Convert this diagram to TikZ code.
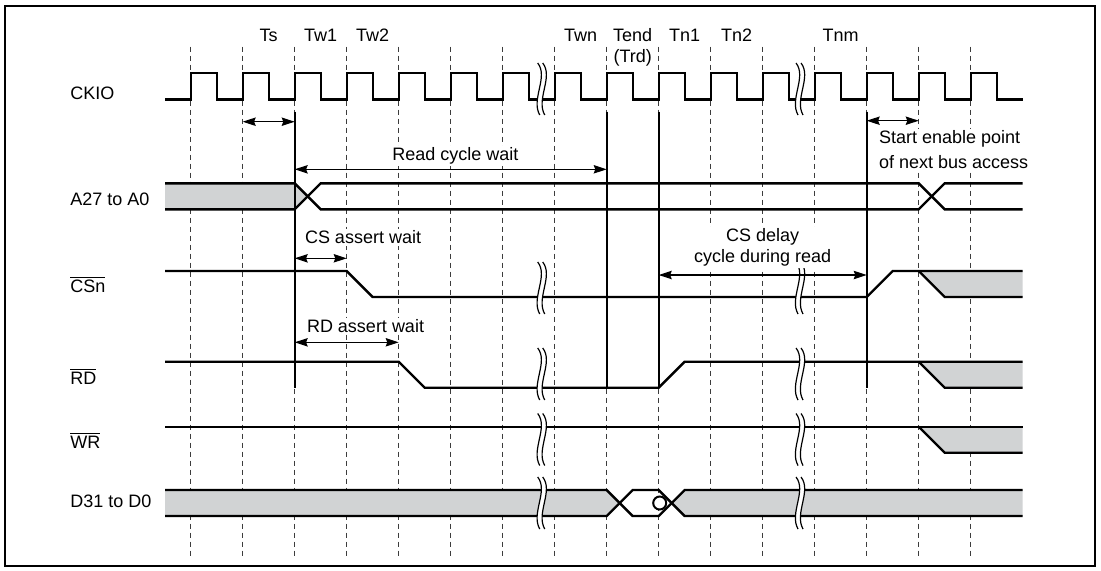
\documentclass[tikz,border=0pt]{standalone}
\usepackage{fontspec}
\setmainfont{Liberation Sans}
\usepackage{tikz}
\usetikzlibrary{arrows.meta, positioning}

\definecolor{busgray}{RGB}{209,211,212}
\definecolor{gridgray}{RGB}{60,60,60}

% break mark: #1 = x, #2 = y of its centre
\newcommand{\brkmark}[2]{%
  \fill[white] (#1-4,#2-26) .. controls (#1+7,#2-12) and (#1-11,#2+10) .. (#1-2,#2+26)
    -- (#1+3,#2+26) .. controls (#1-6,#2+10) and (#1+12,#2-12) .. (#1+1,#2-26) -- cycle;
  \draw[line width=0.6pt] (#1-4,#2-26) .. controls (#1+7,#2-12) and (#1-11,#2+10) .. (#1-2,#2+26);
  \draw[line width=0.6pt] (#1+1,#2-26) .. controls (#1+12,#2-12) and (#1-6,#2+10) .. (#1+3,#2+26);
}

\begin{document}
\begin{tikzpicture}[x=0.5pt, y=-0.5pt, >={Stealth[length=6.5pt,width=4.2pt,inset=0.8pt]},
	sig/.style={line width=1.2pt, line join=miter},
	grid/.style={gridgray, line width=0.7pt, dash pattern=on 2.6pt off 1.9pt},
	dim/.style={<->, line width=0.55pt},
	lbl/.style={font=\fontsize{9pt}{10.8pt}\selectfont, inner sep=0pt},
	note/.style={lbl, fill=white, inner sep=0.8pt}]
		\useasboundingbox (0,0) rectangle (1101,570);

		% Frame
		\draw[line width=1pt] (5,6) rectangle (1095,566);

		% Clock edges (dashed)
		\foreach \k in {0,...,15}
			\draw[grid] ({190.7+52*\k},46.7) -- ({190.7+52*\k},556.7);

		% Cycle names
		\foreach \name/\x [count=\i] in {Ts/268.7, Tw1/320.7, Tw2/372.7, Twn/580.7, Tend/632.7, Tn1/684.7, Tn2/736.7, Tnm/840.7}
			\node[lbl] (cyc\i) at (\x,35) {\name};
		\node[lbl] (trd) at (632.7,57.7) {(Trd)};

		% Signal names
		\node[lbl, anchor=base west] (ckio) at (70,99) {CKIO};
		\node[lbl, anchor=base west] (addr) at (70,205) {A27 to A0};
		\node[lbl, anchor=base west] (csn) at (70,292.3) {$\overline{\mbox{CSn}}$};
		\node[lbl, anchor=base west] (rd) at (70,384.3) {$\overline{\mbox{RD}}$};
		\node[lbl, anchor=base west] (wr) at (70,448.3) {$\overline{\mbox{WR}}$};
		\node[lbl, anchor=base west] (data) at (70,507.5) {D31 to D0};

		% CKIO
		\draw[sig] (165,99.3) foreach \k in {0,...,15} { -- ({190.7+52*\k},99.3) -- ({190.7+52*\k},72.7)
			-- ({216.7+52*\k},72.7) -- ({216.7+52*\k},99.3) } -- (1022.7,99.3);

		% A27 to A0
		\fill[busgray] (165,183.3) -- (294.7,183.3) -- (307.7,196.3) -- (294.7,209.3) -- (165,209.3) -- cycle;
		\draw[sig] (165,183.3) -- (294.7,183.3) -- (320.7,209.3) -- (918.7,209.3) -- (944.7,183.3) -- (1022.7,183.3);
		\draw[sig] (165,209.3) -- (294.7,209.3) -- (320.7,183.3) -- (918.7,183.3) -- (944.7,209.3) -- (1022.7,209.3);

		% CSn
		\fill[busgray] (918.7,271) -- (1022.7,271) -- (1022.7,297) -- (944.7,297) -- cycle;
		\draw[sig] (165,271) -- (346.7,271) -- (372.7,297) -- (866.7,297) -- (892.7,271) -- (1022.7,271);
		\draw[sig] (918.7,271) -- (944.7,297) -- (1022.7,297);

		% RD
		\fill[busgray] (918.7,361.7) -- (1022.7,361.7) -- (1022.7,387.7) -- (944.7,387.7) -- cycle;
		\draw[sig] (165,361.7) -- (398.7,361.7) -- (424.7,387.7) -- (658.7,387.7) -- (684.7,361.7) -- (1022.7,361.7);
		\draw[sig] (918.7,361.7) -- (944.7,387.7) -- (1022.7,387.7);

		% WR
		\fill[busgray] (918.7,426.7) -- (1022.7,426.7) -- (1022.7,452.7) -- (944.7,452.7) -- cycle;
		\draw[sig] (165,426.7) -- (1022.7,426.7);
		\draw[sig] (918.7,426.7) -- (944.7,452.7) -- (1022.7,452.7);

		% D31 to D0
		\fill[busgray] (165,490) -- (606.7,490) -- (619.7,503) -- (606.7,516) -- (165,516) -- cycle;
		\fill[busgray] (1022.7,490) -- (684.7,490) -- (671.7,503) -- (684.7,516) -- (1022.7,516) -- cycle;
		\draw[sig] (165,490) -- (606.7,490) -- (632.7,516) -- (658.7,516) -- (684.7,490) -- (1022.7,490);
		\draw[sig] (165,516) -- (606.7,516) -- (632.7,490) -- (658.7,490) -- (684.7,516) -- (1022.7,516);
		\draw[line width=1pt, fill=white] (659.7,503) circle [radius=3.25pt];

		% Timing markers
		\foreach \x in {294.7, 606.7, 658.7, 866.7}
			\draw[sig] (\x,111.7) -- (\x,387.7);

		% Breaks
		\foreach \x in {541.7, 800} {
			\foreach \y in {89, 288, 374, 439.5, 503} {
				\brkmark{\x}{\y}
			}
		}

		% Arrow ends
		\coordinate (ts a) at (242.7,121.7);
		\coordinate (ts b) at (294.7,121.7);
		\coordinate (nx a) at (866.7,120.7);
		\coordinate (nx b) at (918.7,120.7);
		\coordinate (rcw a) at (294.7,169.3);
		\coordinate (rcw b) at (606.7,169.3);
		\coordinate (csa a) at (294.7,258.3);
		\coordinate (csa b) at (346.7,258.3);
		\coordinate (csd a) at (658.7,275);
		\coordinate (csd b) at (866.7,275);
		\coordinate (rda a) at (294.7,342.3);
		\coordinate (rda b) at (398.7,342.3);

		\draw[dim] (ts a) -- (ts b);
		\draw[dim] (nx a) -- (nx b);
		\draw[dim] (rcw a) -- (rcw b);
		\draw[dim] (csa a) -- (csa b);
		\draw[dim] (csd a) -- (csd b);
		\draw[dim] (rda a) -- (rda b);

		% Notes
		\node[note] (rcw) at (455.3,156) {Read cycle wait};
		\node[note, anchor=west] (csa) at (303,237.3) {CS assert wait};
		\node[note, anchor=west] (rda) at (305,325.7) {RD assert wait};
		\node[note, align=center, font=\fontsize{9pt}{10.5pt}\selectfont] (csd) at (762.7,247.8) {CS delay\\cycle during read};
		\node[note, anchor=west, align=left] (nx) at (877,149.5) {Start enable point\\[1.6pt]of next bus access};

	\end{tikzpicture}
\end{document}
